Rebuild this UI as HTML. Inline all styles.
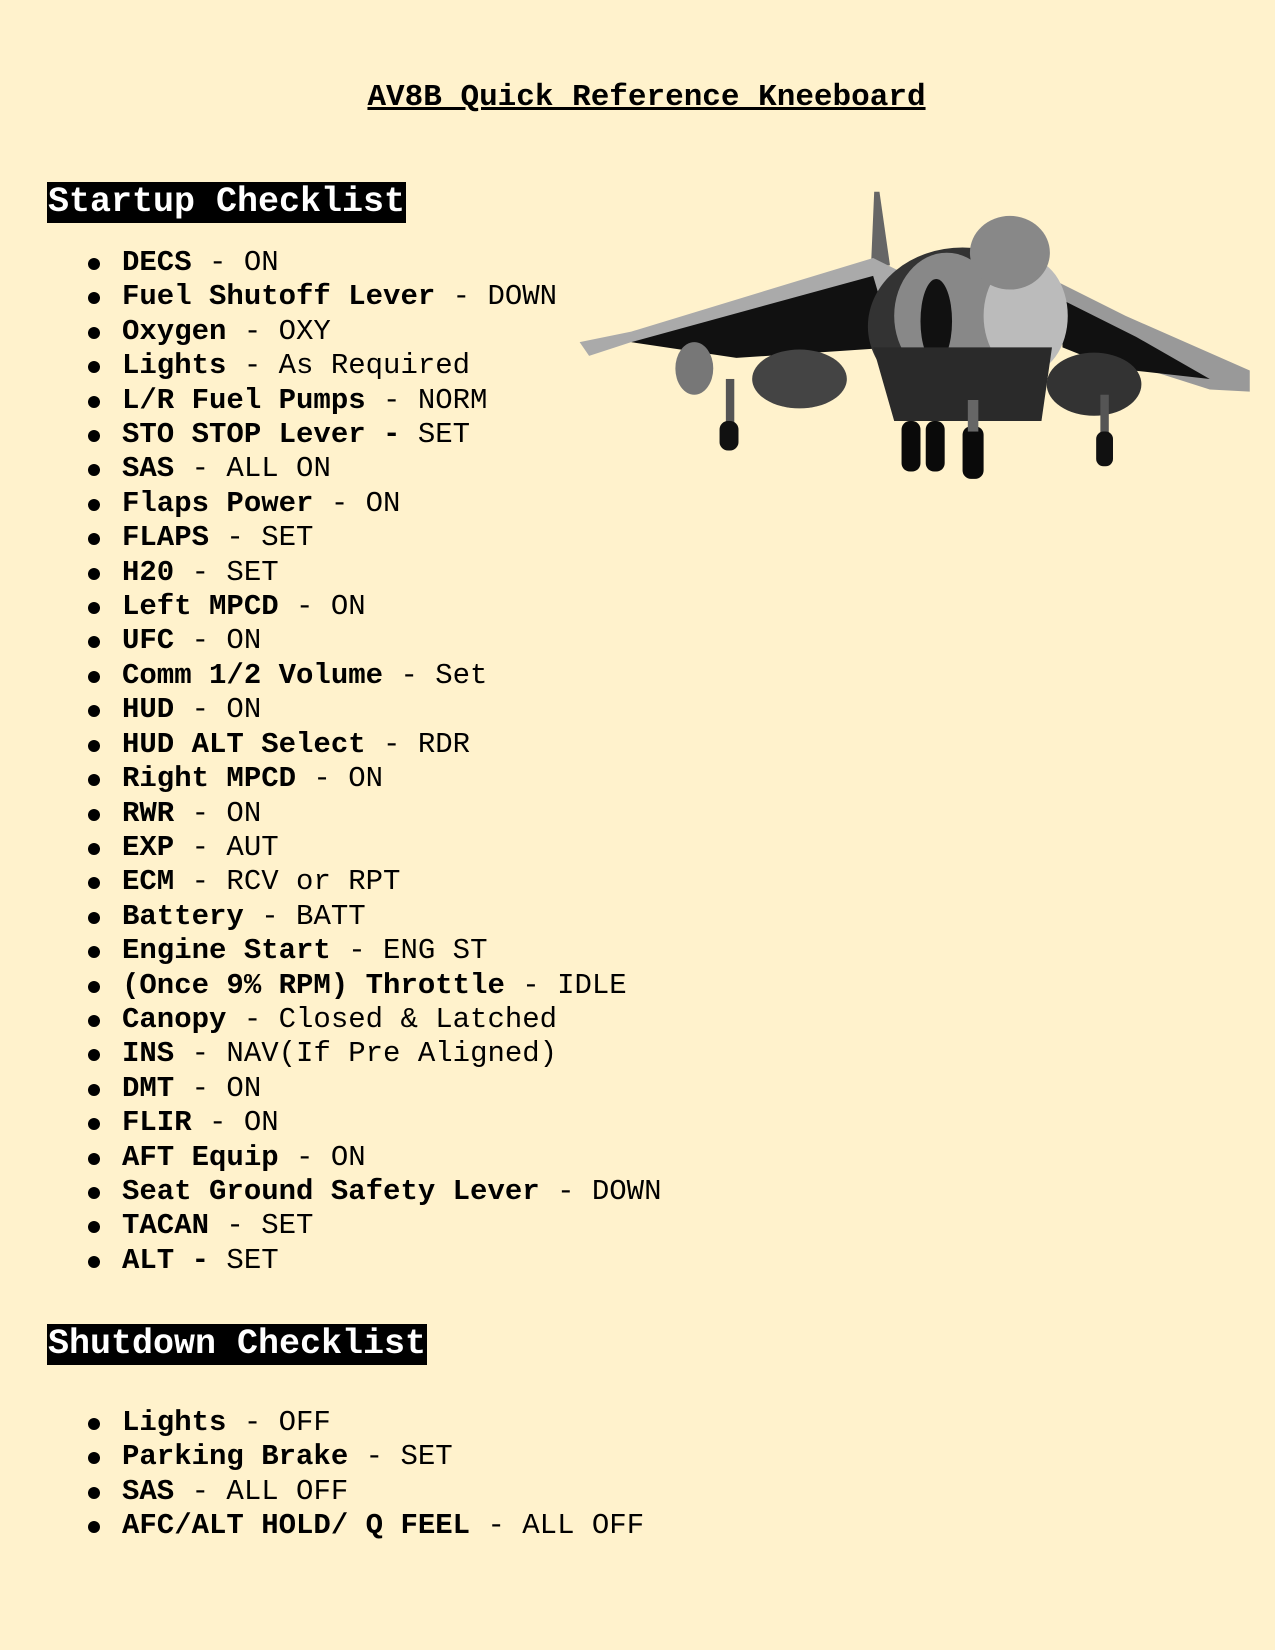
<!DOCTYPE html>
<html><head><meta charset="utf-8"><style>
html,body{margin:0;padding:0;background:#fff2cc;}
body{width:1275px;height:1650px;position:relative;overflow:hidden;font-family:"Liberation Mono",monospace;color:#000;}
.title{position:absolute;left:0;width:1293px;text-align:center;top:76px;font-size:31px;font-weight:bold;text-decoration:underline;line-height:44px;}
.h{position:absolute;left:47px;background:#000;color:#fff;font-size:35px;font-weight:bold;line-height:41px;height:41px;padding:0 1px;white-space:pre;}
ul{position:absolute;left:0;margin:0;padding:0;list-style:none;font-size:29px;line-height:34.4px;}
li{position:relative;padding-left:122px;white-space:pre;}
li:before{content:"";position:absolute;left:88px;top:12px;width:12px;height:12px;border-radius:50%;background:#000;}
b{font-weight:bold;}
</style></head><body>
<div class="title">AV8B Quick Reference Kneeboard</div>
<div class="h" style="top:182px">Startup Checklist</div>
<ul style="top:246px">
<li><b>DECS</b> - ON</li>
<li><b>Fuel Shutoff Lever</b> - DOWN</li>
<li><b>Oxygen</b> - OXY</li>
<li><b>Lights</b> - As Required</li>
<li><b>L/R Fuel Pumps</b> - NORM</li>
<li><b>STO STOP Lever -</b> SET</li>
<li><b>SAS</b> - ALL ON</li>
<li><b>Flaps Power</b> - ON</li>
<li><b>FLAPS</b> - SET</li>
<li><b>H20</b> - SET</li>
<li><b>Left MPCD</b> - ON</li>
<li><b>UFC</b> - ON</li>
<li><b>Comm 1/2 Volume</b> - Set</li>
<li><b>HUD</b> - ON</li>
<li><b>HUD ALT Select</b> - RDR</li>
<li><b>Right MPCD</b> - ON</li>
<li><b>RWR</b> - ON</li>
<li><b>EXP</b> - AUT</li>
<li><b>ECM</b> - RCV or RPT</li>
<li><b>Battery</b> - BATT</li>
<li><b>Engine Start</b> - ENG ST</li>
<li><b>(Once 9% RPM) Throttle</b> - IDLE</li>
<li><b>Canopy</b> - Closed &amp; Latched</li>
<li><b>INS</b> - NAV(If Pre Aligned)</li>
<li><b>DMT</b> - ON</li>
<li><b>FLIR</b> - ON</li>
<li><b>AFT Equip</b> - ON</li>
<li><b>Seat Ground Safety Lever</b> - DOWN</li>
<li><b>TACAN</b> - SET</li>
<li><b>ALT -</b> SET</li>
</ul>
<div class="h" style="top:1324px">Shutdown Checklist</div>
<ul style="top:1406px">
<li><b>Lights</b> - OFF</li>
<li><b>Parking Brake</b> - SET</li>
<li><b>SAS</b> - ALL OFF</li>
<li><b>AFC/ALT HOLD/ Q FEEL</b> - ALL OFF</li>
</ul>
<svg style="position:absolute;left:0;top:0" width="1275" height="1650" viewBox="0 0 1212 1568">
<polygon points="831,182 836,182 846,252 828,252" fill="#666"/>
<polygon points="551,325 600,315 830,245 860,260 850,330 700,330 600,325 560,338" fill="#aaa"/>
<polygon points="600,325 830,262 850,330 700,340" fill="#111"/>
<polygon points="1000,265 1070,300 1188,352 1188,372 1150,370 1040,335 1000,320" fill="#999"/>
<polygon points="1010,285 1080,320 1150,360 1060,350 1010,330" fill="#111"/>
<ellipse cx="915" cy="310" rx="90" ry="75" fill="#333"/>
<ellipse cx="900" cy="300" rx="50" ry="60" fill="#888"/>
<ellipse cx="890" cy="305" rx="15" ry="40" fill="#111"/>
<ellipse cx="975" cy="300" rx="40" ry="55" fill="#bbb"/>
<ellipse cx="960" cy="240" rx="38" ry="35" fill="#888"/>
<path d="M 830 330 L 850 400 L 990 400 L 1000 330 Z" fill="#2a2a2a"/>
<ellipse cx="760" cy="360" rx="45" ry="28" fill="#444"/>
<ellipse cx="1040" cy="365" rx="45" ry="30" fill="#333"/>
<ellipse cx="660" cy="350" rx="18" ry="25" fill="#777"/>
<rect x="690" y="360" width="8" height="50" fill="#555"/>
<rect x="684" y="400" width="18" height="28" rx="8" fill="#111"/>
<rect x="1046" y="375" width="8" height="40" fill="#555"/>
<rect x="1042" y="410" width="16" height="33" rx="7" fill="#111"/>
<rect x="857" y="400" width="18" height="48" rx="8" fill="#0a0a0a"/>
<rect x="880" y="400" width="18" height="48" rx="8" fill="#0a0a0a"/>
<rect x="915" y="405" width="20" height="50" rx="8" fill="#0a0a0a"/>
<rect x="920" y="380" width="10" height="30" fill="#666"/>
</svg>
</body></html>
